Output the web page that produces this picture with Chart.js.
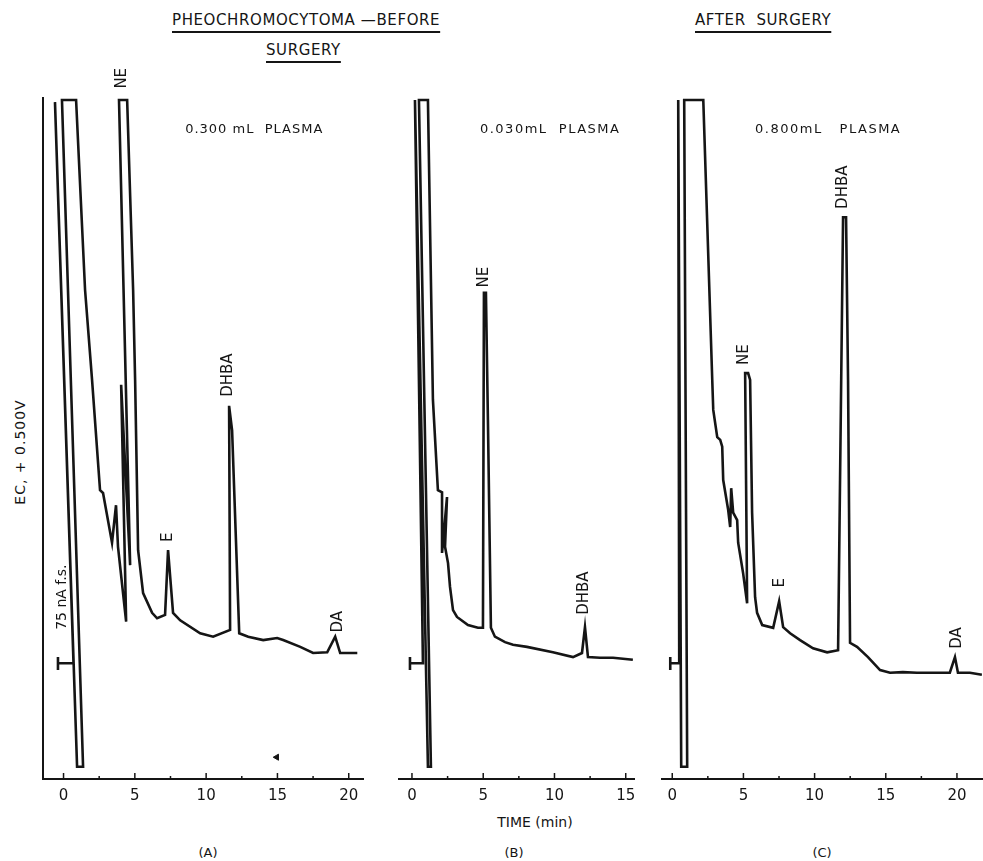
<!DOCTYPE html>
<html>
<head>
<meta charset="utf-8">
<title>Pheochromocytoma - plasma catecholamines</title>
<script src="https://cdn.jsdelivr.net/npm/chart.js@4.4.1/dist/chart.umd.min.js"></script>
<style>
  html, body { margin: 0; padding: 0; background: #fff; }
  body { width: 983px; height: 861px; position: relative; overflow: hidden;
         font-family: "DejaVu Sans", sans-serif; color: #151515; }
  canvas { position: absolute; }
  .txt { position: absolute; white-space: nowrap; font-size: 14px; line-height: 18px; }
  .title { font-size: 15px; letter-spacing: 0.6px; text-decoration: underline;
           text-decoration-thickness: 1.5px; text-underline-offset: 6px; }
  .rot { transform: translate(-50%, -50%) rotate(-90deg); }
  .ctr { transform: translate(-50%, -50%); }
</style>
</head>
<body>
<div class="txt title" style="left:172px; top:11px;">PHEOCHROMOCYTOMA —BEFORE</div>
<div class="txt title" style="left:266px; top:41px;">SURGERY</div>
<div class="txt title" style="left:695px; top:11px;">AFTER &nbsp;SURGERY</div>
<div class="txt rot" style="left:20px; top:452px; letter-spacing:1px;">EC, + 0.500V</div>
<div class="txt ctr" style="left:535px; top:822px;">TIME (min)</div>
<div class="txt ctr" style="left:208px; top:853px; font-size:13px;">(A)</div>
<div class="txt ctr" style="left:514px; top:853px; font-size:13px;">(B)</div>
<div class="txt ctr" style="left:822px; top:853px; font-size:13px;">(C)</div>

<canvas id="chartA" width="372" height="780" style="left:0px; top:60px;"></canvas>
<canvas id="chartB" width="285" height="780" style="left:380px; top:60px;"></canvas>
<canvas id="chartC" width="343" height="780" style="left:640px; top:60px;"></canvas>

<script>
// detector signal in % of recorder full scale, time in min
// (A) before surgery, 0.300 mL plasma
const timeA = [-0.39, -0.39, -0.39, 0.70, -0.60, 0.95, 1.37, -0.11, 0.88, 1.51,
  2.0, 2.56, 2.77, 3.40, 3.68, 3.82, 4.39, 4.04, 4.67, 3.89,
  4.46, 4.88, 5.02, 5.23, 5.58, 6.21, 6.56, 7.12, 7.33, 7.68,
  8.18, 9.58, 10.49, 11.68, 11.61, 11.82, 12.32, 12.95, 14.0, 14.98,
  15.4, 16.6, 17.5, 18.49, 19.05, 19.4, 20.6];
const signalA = [17.9, 16.0, 17.0, 17.0, 99.4, 1.8, 1.8, 99.7, 99.7, 71.8,
  58.6, 42.4, 42.0, 34.7, 40.2, 34.1, 23.1, 57.9, 31.4, 99.7,
  99.7, 71.8, 58.6, 33.6, 27.3, 24.4, 23.6, 24.1, 33.6, 24.4,
  23.3, 21.4, 20.9, 21.9, 54.8, 51.2, 21.4, 20.9, 20.4, 20.7,
  20.4, 19.4, 18.5, 18.6, 20.9, 18.5, 18.5];

// (B) before surgery, 0.030 mL plasma
const timeB = [-0.14, -0.14, -0.14, 0.77, 0.21, 1.12, 1.33, 0.49, 1.12, 1.47,
  1.82, 2.11, 2.11, 2.46, 2.32, 2.53, 2.67, 2.88, 3.16, 3.93,
  4.63, 4.98, 5.05, 5.19, 5.33, 5.54, 5.82, 6.53, 7.09, 8.07,
  9.89, 11.3, 11.93, 12.14, 12.35, 13.19, 14.11, 15.5];
const signalB = [17.9, 16.0, 17.0, 17.0, 99.7, 1.8, 1.8, 99.7, 99.7, 55.7,
  42.4, 42.1, 33.2, 41.4, 34.1, 31.7, 28.2, 24.8, 23.8, 22.6,
  22.2, 22.2, 71.4, 71.4, 52.7, 22.2, 20.9, 20.1, 19.7, 19.4,
  18.6, 17.9, 18.5, 22.3, 17.9, 17.8, 17.8, 17.5];

// (C) after surgery, 0.800 mL plasma
const timeC = [-0.14, -0.14, -0.14, 0.49, 0.42, 0.63, 1.05, 0.84, 2.18, 2.81,
  2.88, 3.16, 3.37, 3.51, 3.58, 3.93, 4.07, 4.14, 4.28, 4.56,
  4.63, 4.98, 5.26, 5.12, 5.33, 5.47, 5.61, 5.82, 5.96, 6.32,
  7.09, 7.51, 7.79, 8.28, 8.98, 9.89, 10.88, 11.65, 12.0, 12.21,
  12.35, 12.49, 12.98, 13.75, 14.6, 15.3, 16.2, 17.19, 18.8, 19.5,
  19.86, 20.07, 20.91, 21.75];
const signalC = [17.9, 16.0, 17.0, 17.0, 99.7, 1.8, 1.8, 99.7, 99.7, 58.6,
  54.2, 50.2, 49.8, 48.8, 43.9, 39.5, 37.0, 42.7, 39.1, 38.0,
  34.7, 30.2, 25.8, 59.6, 59.6, 58.6, 39.1, 26.7, 24.4, 22.6,
  22.2, 26.1, 22.3, 21.4, 20.4, 19.2, 18.6, 18.9, 82.5, 82.5,
  58.6, 20.0, 19.4, 17.9, 16.0, 15.6, 15.7, 15.6, 15.6, 15.6,
  17.9, 15.6, 15.6, 15.3];

// stray pen mark on trace A
const markTimeA = [14.95];
const markSignalA = [3.2];

// peak labels: name, time, signal level where the label sits
const peakNamesA = ["NE", "E", "DHBA", "DA"];
const peakTimesA = [4.1, 7.33, 11.54, 19.26];
const peakLevelsA = [102.9, 35.5, 59.3, 23.1];
const peakNamesB = ["NE", "DHBA"];
const peakTimesB = [5.05, 12.07];
const peakLevelsB = [73.7, 27.3];
const peakNamesC = ["NE", "E", "DHBA", "DA"];
const peakTimesC = [5.05, 7.58, 12.0, 20.0];
const peakLevelsC = [62.3, 28.8, 86.9, 20.7];

const ink = "#151515";

// rotated peak names + sample notes, placed with the chart scales
const labelPlugin = {
  id: "labels",
  afterDraw(chart, args, opts) {
    const { ctx, scales: { x, y } } = chart;
    ctx.save();
    ctx.fillStyle = ink;
    (opts.items || []).forEach(it => {
      ctx.save();
      ctx.translate(x.getPixelForValue(it.t), y.getPixelForValue(it.v));
      if (it.rotate) ctx.rotate(-Math.PI / 2);
      ctx.font = (it.size || 15) + 'px "DejaVu Sans"';
      ctx.letterSpacing = it.spacing || "0px";
      ctx.textAlign = it.align || "center";
      ctx.textBaseline = "middle";
      ctx.fillText(it.text, 0, 0);
      ctx.restore();
    });
    // small tick marks pointing up from the time axis
    ctx.strokeStyle = ink;
    ctx.lineWidth = 1.5;
    x.ticks.forEach(tk => {
      const px = x.getPixelForValue(tk.value);
      const len = tk.value % 5 === 0 ? 6 : 3;
      ctx.beginPath();
      ctx.moveTo(px, y.bottom);
      ctx.lineTo(px, y.bottom - len);
      ctx.stroke();
    });
    ctx.restore();
  }
};

function peakItems(names, times, levels) {
  return names.map((n, i) => ({ text: n, t: times[i], v: levels[i], rotate: true }));
}

function makeChart(id, times, signals, cfg) {
  const datasets = [{
    data: times.map((t, i) => ({ x: t, y: signals[i] })),
    borderColor: ink,
    borderWidth: 2.6,
    pointRadius: 0,
    tension: 0,
    fill: false
  }];
  if (cfg.marks) {
    datasets.push({
      data: cfg.marks,
      showLine: false,
      pointStyle: "triangle",
      rotation: -90,
      pointRadius: 3.5,
      backgroundColor: ink,
      borderColor: ink
    });
  }
  return new Chart(document.getElementById(id), {
    type: "line",
    data: { datasets },
    options: {
      responsive: false,
      animation: false,
      layout: { padding: cfg.padding },
      plugins: {
        legend: { display: false },
        tooltip: { enabled: false },
        labels: { items: cfg.items }
      },
      scales: {
        x: {
          type: "linear",
          min: cfg.min,
          max: cfg.max,
          afterFit: s => { s.height = 30; },
          grid: { display: false, drawTicks: false },
          border: { display: true, color: ink, width: 2 },
          ticks: {
            stepSize: 2.5,
            includeBounds: false,
            autoSkip: false,
            maxRotation: 0,
            padding: 8,
            color: ink,
            font: { family: "DejaVu Sans", size: 15 },
            callback: v => (v % 5 === 0 ? String(v) : "")
          }
        },
        y: {
          min: 0,
          max: 100,
          display: cfg.yAxis,
          afterFit: s => { s.width = 0; },
          grid: { display: false, drawTicks: false },
          border: { display: true, color: ink, width: 2 },
          ticks: { display: false }
        }
      }
    },
    plugins: [labelPlugin]
  });
}

makeChart("chartA", timeA, signalA, {
  min: -1.44, max: 21.0, yAxis: true,
  padding: { left: 43, right: 9, top: 38, bottom: 31 },
  marks: markTimeA.map((t, i) => ({ x: t, y: markSignalA[i] })),
  items: peakItems(peakNamesA, peakTimesA, peakLevelsA).concat([
    { text: "75 nA f.s.", t: -0.1, v: 26.7, rotate: true, size: 14 },
    { text: "0.300 mL  PLASMA", t: 8.53, v: 95.3, align: "left", size: 13, spacing: "1px" }
  ])
});

makeChart("chartB", timeB, signalB, {
  min: -0.91, max: 15.58, yAxis: false,
  padding: { left: 19, right: 31, top: 38, bottom: 31 },
  items: peakItems(peakNamesB, peakTimesB, peakLevelsB).concat([
    { text: "0.030mL  PLASMA", t: 4.77, v: 95.3, align: "left", size: 13, spacing: "1.5px" }
  ])
});

makeChart("chartC", timeC, signalC, {
  min: -0.72, max: 21.83, yAxis: false,
  padding: { left: 22, right: 0, top: 38, bottom: 31 },
  items: peakItems(peakNamesC, peakTimesC, peakLevelsC).concat([
    { text: "0.800mL   PLASMA", t: 5.82, v: 95.3, align: "left", size: 13, spacing: "1.5px" }
  ])
});
</script>
</body>
</html>
